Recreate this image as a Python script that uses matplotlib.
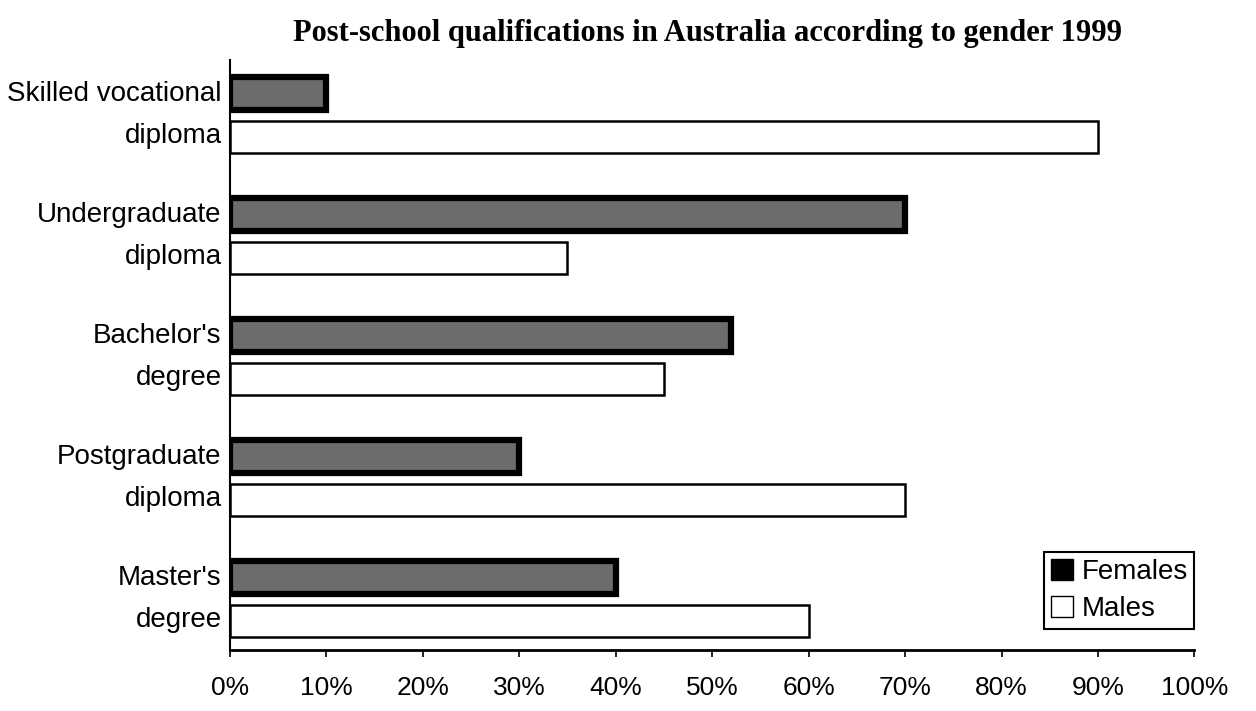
import matplotlib
matplotlib.use("Agg")
import matplotlib.pyplot as plt
from matplotlib.patches import Patch
from matplotlib.ticker import FuncFormatter
from matplotlib.transforms import ScaledTranslation
import numpy as np

categories = ["Skilled vocational\ndiploma", "Undergraduate\ndiploma", "Bachelor's\ndegree",
              "Postgraduate\ndiploma", "Master's\ndegree"]
females = [10, 70, 52, 30, 40]
males = [90, 35, 45, 70, 60]
xticks = [0, 10, 20, 30, 40, 50, 60, 70, 80, 90, 100]
title = "Post-school qualifications in Australia according to gender 1999"

fig = plt.figure(figsize=(12.56, 7.11), dpi=100)
ax = fig.add_axes([0.183, 0.086, 0.768, 0.830])

y = np.arange(len(categories))
h = 0.27
off = 0.18
ax.barh(y - off, females, height=h, color="#6c6c6c", edgecolor="black", linewidth=4.5, label="Females")
ax.barh(y + off, males, height=h, color="white", edgecolor="black", linewidth=1.8, label="Males")

ax.set_ylim(4.42, -0.46)
ax.set_xlim(0, 100)
ax.set_yticks(y)
ax.set_yticklabels(categories, fontsize=20, family="Liberation Sans", ha="right", va="center",
                   linespacing=1.8)
shift = ScaledTranslation(0, -4 / 100, fig.dpi_scale_trans)
for lab in ax.get_yticklabels():
    lab.set_transform(lab.get_transform() + shift)
ax.tick_params(axis="y", length=0, pad=6)
ax.set_xticks(xticks)
ax.xaxis.set_major_formatter(FuncFormatter(lambda v, p: f"{int(v)}%"))
ax.tick_params(axis="x", direction="out", length=5, width=1.2, labelsize=19, pad=14)
for lab in ax.get_xticklabels():
    lab.set_family("Liberation Sans")

for s in ["top", "right"]:
    ax.spines[s].set_visible(False)
ax.spines["left"].set_linewidth(1.5)
ax.spines["bottom"].set_linewidth(2)

handles = [Patch(facecolor="black", edgecolor="black", label="Females"),
           Patch(facecolor="white", edgecolor="black", label="Males")]
leg = ax.legend(handles=handles, loc="lower right", bbox_to_anchor=(1.0, 0.035),
                fancybox=False, framealpha=1, edgecolor="black",
                prop={"family": "Liberation Sans", "size": 20},
                handlelength=0.8, handleheight=0.8, handletextpad=0.3,
                borderpad=0.25, labelspacing=0.4, borderaxespad=0)
leg.get_frame().set_linewidth(1.5)

fig.text(0.563, 0.953, title, ha="center", va="center", fontsize=22,
         family="Liberation Serif", fontweight="bold")

fig.savefig("out.png", dpi=100)
